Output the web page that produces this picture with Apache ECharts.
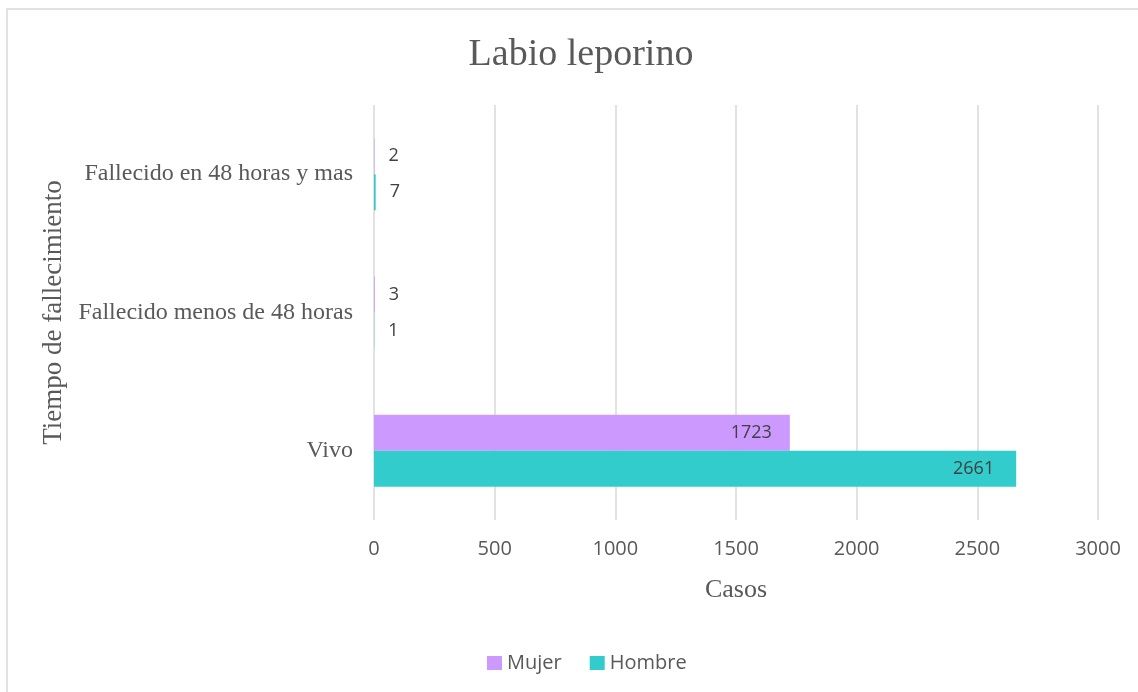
<!DOCTYPE html>
<html>
<head>
<meta charset="utf-8">
<script src="https://cdn.jsdelivr.net/npm/echarts@6/dist/echarts.min.js"></script>
<style>html,body{margin:0;padding:0;background:#fff;}#c{width:1138px;height:692px;}</style>
</head>
<body>
<div id="c"></div>
<script>
const categories = ['Vivo', 'Fallecido menos de 48 horas', 'Fallecido en 48 horas y mas'];
const mujer = [1723, 3, 2];
const hombre = [2661, 1, 7];
const xTicks = [0, 500, 1000, 1500, 2000, 2500, 3000];

const chart = echarts.init(document.getElementById('c'));
function items(arr) {
  return arr.map(v => v < 200
    ? { value: v, label: { position: 'right', distance: 14 } }
    : { value: v });
}
const serif = '"Liberation Serif", "Times New Roman", serif';
const sans = '"Open Sans", "Noto Sans", sans-serif';
chart.setOption({
  animation: false,
  backgroundColor: '#fff',
  title: {
    text: 'Labio leporino',
    left: 576, top: 31, textAlign: 'center',
    textStyle: { fontFamily: serif, fontSize: 38, fontWeight: 'normal', color: '#595959' }
  },
  graphic: [{
    type: 'rect', shape: { x: 7, y: 9, width: 1200, height: 800 },
    style: { fill: 'none', stroke: '#d9d9d9', lineWidth: 1.5 }, silent: true
  }],
  legend: {
    data: ['Mujer', 'Hombre'],
    left: 482, top: 648,
    itemWidth: 15, itemHeight: 14, itemGap: 28,
    icon: 'rect',
    textStyle: { fontFamily: sans, fontSize: 20, color: '#595959' }
  },
  grid: { left: 374, right: 40, top: 105, bottom: 172, containLabel: false },
  xAxis: {
    type: 'value', min: xTicks[0], max: xTicks[xTicks.length - 1], interval: xTicks[1] - xTicks[0],
    name: 'Casos', nameLocation: 'middle', nameGap: 57,
    nameTextStyle: { fontFamily: serif, fontSize: 26, color: '#595959' },
    axisLine: { show: false }, axisTick: { show: false },
    axisLabel: { margin: 19, fontFamily: sans, fontSize: 20, color: '#595959', formatter: v => String(v) },
    splitLine: { show: true, lineStyle: { color: '#d9d9d9', width: 1.5 } }
  },
  yAxis: {
    type: 'category', data: categories,
    name: 'Tiempo de fallecimiento', nameLocation: 'middle', nameRotate: 90, nameGap: 303,
    nameTextStyle: { fontFamily: serif, fontSize: 27, color: '#595959' },
    axisLine: { show: false }, axisTick: { show: false },
    axisLabel: { margin: 21, fontFamily: serif, fontSize: 24, color: '#595959' },
    splitLine: { show: false }
  },
  series: [
    {
      name: 'Mujer', type: 'bar', data: items(mujer), barWidth: 36, barGap: '0%',
      itemStyle: { color: '#CC99FF' },
      label: { show: true, position: 'insideRight', distance: 18, fontFamily: sans, fontSize: 18, color: '#404040' }
    },
    {
      name: 'Hombre', type: 'bar', data: items(hombre), barWidth: 36, barGap: '0%',
      itemStyle: { color: '#33CCCC' },
      label: { show: true, position: 'insideRight', distance: 22, fontFamily: sans, fontSize: 18, color: '#404040' }
    }
  ]
});
</script>
</body>
</html>
